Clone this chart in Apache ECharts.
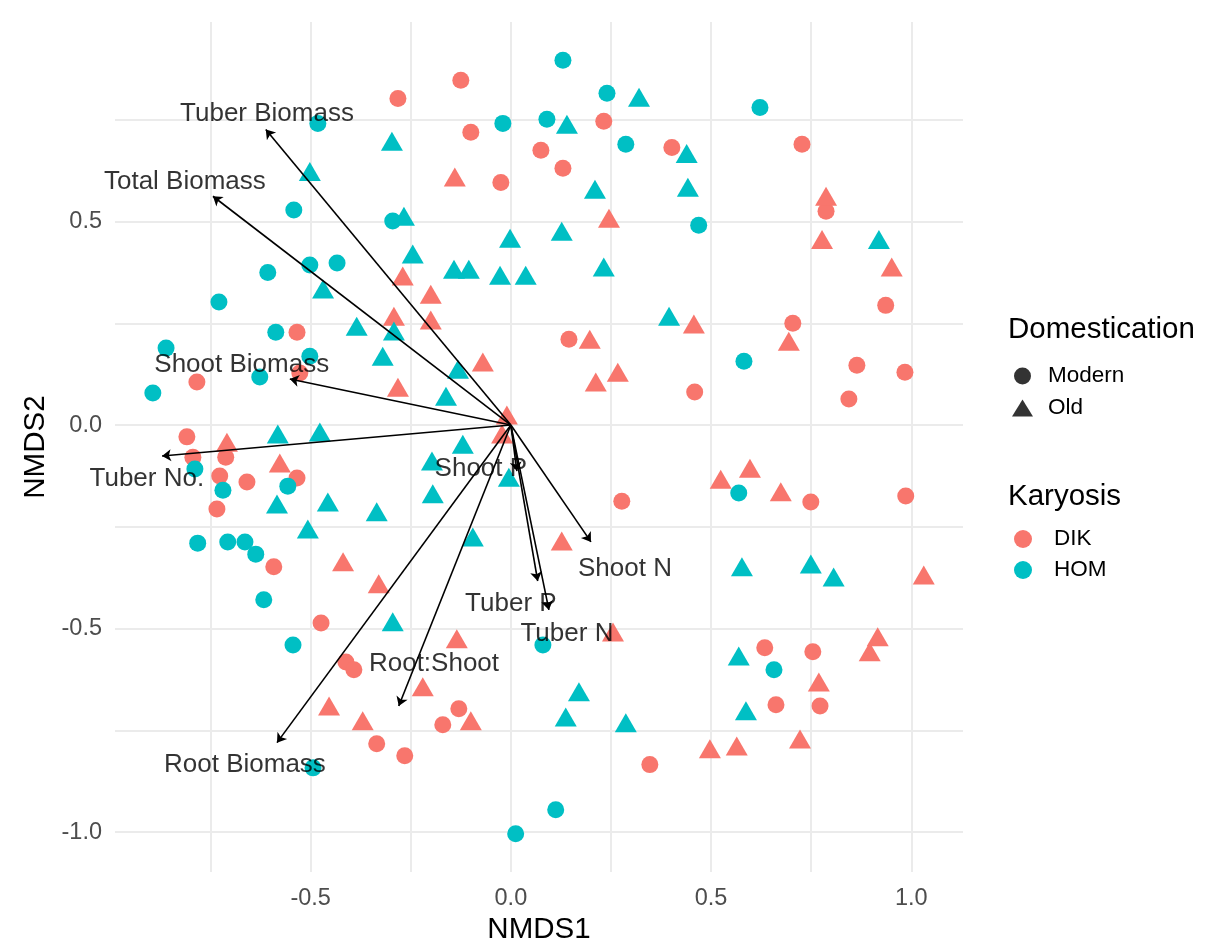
<!DOCTYPE html>
<html>
<head>
<meta charset="utf-8">
<title>NMDS ordination</title>
<script src="https://cdn.jsdelivr.net/npm/echarts@6/dist/echarts.min.js"></script>
<style>
  html, body { margin: 0; padding: 0; background: #ffffff; }
  #chart { width: 1216px; height: 950px; }
</style>
</head>
<body>
<div id="chart"></div>
<script>
// Site scores [NMDS1, NMDS2], split by karyosis and domestication group
const dikModern = [
  [-0.282, 0.802], [-0.125, 0.847], [-0.100, 0.719], [-0.025, 0.596], [0.075, 0.675],
  [0.130, 0.631], [0.232, 0.746], [0.402, 0.682], [0.727, 0.690], [0.787, 0.525],
  [0.936, 0.294], [0.704, 0.250], [0.145, 0.211], [0.864, 0.147], [0.984, 0.130],
  [0.459, 0.081], [0.844, 0.064], [-0.534, 0.228], [-0.527, 0.128], [-0.784, 0.106],
  [-0.809, -0.029], [-0.794, -0.079], [-0.712, -0.079], [-0.727, -0.125], [-0.659, -0.140],
  [-0.534, -0.130], [-0.734, -0.206], [-0.592, -0.348], [-0.474, -0.486], [-0.412, -0.582],
  [-0.392, -0.601], [-0.130, -0.697], [-0.170, -0.736], [-0.335, -0.783], [-0.265, -0.812],
  [0.277, -0.187], [0.749, -0.189], [0.986, -0.174], [0.634, -0.547], [0.754, -0.557],
  [0.662, -0.687], [0.772, -0.690], [0.347, -0.834]
];
const dikOld = [
  [-0.140, 0.609], [0.245, 0.508], [0.787, 0.562], [0.777, 0.456], [0.951, 0.388],
  [-0.270, 0.366], [-0.200, 0.321], [-0.292, 0.267], [-0.200, 0.258], [-0.070, 0.155],
  [-0.282, 0.093], [0.457, 0.248], [0.694, 0.206], [0.197, 0.211], [0.267, 0.130],
  [0.212, 0.106], [-0.010, 0.025], [-0.022, -0.022], [-0.709, -0.042], [-0.577, -0.093],
  [-0.419, -0.336], [-0.330, -0.390], [0.524, -0.133], [0.597, -0.106], [0.674, -0.164],
  [0.127, -0.285], [1.031, -0.368], [0.255, -0.508], [-0.135, -0.525], [-0.220, -0.643],
  [-0.454, -0.690], [-0.370, -0.726], [-0.100, -0.726], [0.916, -0.520], [0.896, -0.557],
  [0.769, -0.631], [0.722, -0.771], [0.497, -0.795], [0.564, -0.788]
];
const homModern = [
  [0.130, 0.896], [0.240, 0.815], [0.622, 0.780], [0.090, 0.751], [-0.020, 0.741],
  [-0.482, 0.741], [0.287, 0.690], [0.469, 0.491], [-0.542, 0.528], [-0.295, 0.501],
  [-0.502, 0.393], [-0.434, 0.398], [-0.607, 0.375], [-0.729, 0.302], [-0.587, 0.228],
  [-0.502, 0.169], [-0.861, 0.189], [-0.627, 0.118], [-0.894, 0.079], [0.582, 0.157],
  [-0.789, -0.108], [-0.719, -0.160], [-0.557, -0.150], [0.569, -0.167], [-0.782, -0.290],
  [-0.707, -0.287], [-0.664, -0.287], [-0.637, -0.317], [-0.617, -0.429], [-0.544, -0.540],
  [0.080, -0.540], [0.657, -0.601], [-0.494, -0.842], [0.112, -0.945], [0.012, -1.004]
];
const homOld = [
  [-0.297, 0.697], [-0.502, 0.623], [0.320, 0.805], [0.140, 0.739], [0.439, 0.667],
  [0.210, 0.579], [0.442, 0.584], [-0.267, 0.513], [-0.002, 0.459], [0.127, 0.476],
  [0.919, 0.456], [-0.245, 0.420], [-0.142, 0.383], [-0.105, 0.383], [-0.027, 0.368],
  [0.037, 0.368], [0.232, 0.388], [-0.469, 0.334], [-0.385, 0.243], [-0.292, 0.231],
  [0.395, 0.267], [-0.320, 0.169], [-0.132, 0.137], [-0.162, 0.071], [-0.582, -0.022],
  [-0.477, -0.017], [-0.120, -0.047], [-0.197, -0.088], [-0.005, -0.128], [-0.195, -0.169],
  [-0.584, -0.194], [-0.457, -0.189], [-0.335, -0.213], [-0.507, -0.255], [-0.095, -0.275],
  [-0.295, -0.483], [0.577, -0.348], [0.749, -0.341], [0.806, -0.373], [0.569, -0.567],
  [0.170, -0.655], [0.137, -0.717], [0.287, -0.731], [0.587, -0.702]
];

// Fitted trait vectors (arrow tips) and where their names sit
const vectorNames = [
  'Tuber Biomass', 'Total Biomass', 'Shoot Biomass', 'Tuber No.', 'Root Biomass',
  'Root:Shoot', 'Shoot P', 'Tuber P', 'Tuber N', 'Shoot N'
];
const vectorTips = [
  [-0.612, 0.726], [-0.744, 0.562], [-0.552, 0.113], [-0.871, -0.076], [-0.584, -0.780],
  [-0.280, -0.690], [0.015, -0.113], [0.067, -0.383], [0.095, -0.454], [0.200, -0.287]
];
const vectorLabelPos = [
  [-0.609, 0.771], [-0.814, 0.604], [-0.672, 0.155], [-0.909, -0.125], [-0.664, -0.827],
  [-0.192, -0.579], [-0.075, -0.101], [0.000, -0.432], [0.140, -0.506], [0.285, -0.346]
];

// Axis ticks and grid positions
const xTickLabels = [-0.5, 0.0, 0.5, 1.0];
const yTickLabels = [-1.0, -0.5, 0.0, 0.5];
const xGridLines = [-0.75, -0.5, -0.25, 0, 0.25, 0.5, 0.75, 1.0];
const yGridLines = [-1.0, -0.75, -0.5, -0.25, 0, 0.25, 0.5, 0.75];

const FONT = "'Liberation Sans', Arial, Helvetica, sans-serif";
const RED = '#F8766D';
const TEAL = '#00BFC4';

function tagged(points, group) {
  return points.map(p => [p[0], p[1], group]);
}
const shapeOf = v => (v[2] === 'Old' ? 'triangle' : 'circle');
const sizeOf = v => (v[2] === 'Old' ? [22, 19] : 17);

const chart = echarts.init(document.getElementById('chart'), null, { renderer: 'canvas' });

const option = {
  backgroundColor: '#ffffff',
  animation: false,
  textStyle: { fontFamily: FONT },
  grid: { left: 115, right: 253, top: 22, bottom: 77, containLabel: false },
  title: [
    { text: 'Domestication', left: 1008, top: 315, padding: 0,
      textStyle: { fontSize: 29.5, fontWeight: 'normal', color: '#000', fontFamily: FONT } },
    { text: 'Karyosis', left: 1008, top: 482, padding: 0,
      textStyle: { fontSize: 29.5, fontWeight: 'normal', color: '#000', fontFamily: FONT } }
  ],
  legend: [
    {
      orient: 'vertical', left: 1012, top: 363, padding: 0,
      itemWidth: 21, itemHeight: 17, itemGap: 6, selectedMode: false,
      data: [{ name: 'Modern', icon: 'circle' }, { name: 'Old', icon: 'triangle' }],
      textStyle: { fontSize: 22.5, color: '#000', fontFamily: FONT, lineHeight: 26, padding: [0, 0, 0, 10] }
    },
    {
      orient: 'vertical', left: 1014, top: 526, padding: 0,
      itemWidth: 18, itemHeight: 18, itemGap: 5, selectedMode: false,
      data: [{ name: 'DIK', icon: 'circle' }, { name: 'HOM', icon: 'circle' }],
      textStyle: { fontSize: 22.5, color: '#000', fontFamily: FONT, lineHeight: 26, padding: [0, 0, 0, 17] }
    }
  ],
  xAxis: {
    type: 'value', min: -0.9885, max: 1.129,
    name: 'NMDS1', nameLocation: 'middle', nameGap: 42,
    nameTextStyle: { fontSize: 29.5, color: '#000', fontFamily: FONT },
    axisLine: { show: false },
    axisTick: { show: false, customValues: xGridLines },
    axisLabel: { customValues: xTickLabels, margin: 14, fontSize: 23.5, color: '#4D4D4D',
      fontFamily: FONT, formatter: v => v.toFixed(1) },
    splitLine: { show: true, lineStyle: { color: '#EBEBEB', width: 2 } }
  },
  yAxis: {
    type: 'value', min: -1.098, max: 0.990,
    name: 'NMDS2', nameLocation: 'middle', nameGap: 62, nameRotate: 90,
    nameTextStyle: { fontSize: 29.5, color: '#000', fontFamily: FONT },
    axisLine: { show: false },
    axisTick: { show: false, customValues: yGridLines },
    axisLabel: { customValues: yTickLabels, margin: 13, fontSize: 23.5, color: '#4D4D4D',
      fontFamily: FONT, formatter: v => v.toFixed(1) },
    splitLine: { show: true, lineStyle: { color: '#EBEBEB', width: 2 } }
  },
  series: [
    {
      name: 'DIK', type: 'scatter', z: 2,
      data: tagged(dikModern, 'Modern').concat(tagged(dikOld, 'Old')),
      symbol: shapeOf, symbolSize: sizeOf,
      itemStyle: { color: RED, opacity: 1 },
      emphasis: { disabled: true }
    },
    {
      name: 'HOM', type: 'scatter', z: 2,
      data: tagged(homModern, 'Modern').concat(tagged(homOld, 'Old')),
      symbol: shapeOf, symbolSize: sizeOf,
      itemStyle: { color: TEAL, opacity: 1 },
      emphasis: { disabled: true }
    },
    // legend-only entries for the shape key
    { name: 'Modern', type: 'scatter', data: [], symbol: 'circle', itemStyle: { color: '#000' } },
    { name: 'Old', type: 'scatter', data: [], symbol: 'triangle', itemStyle: { color: '#000' } },
    {
      name: 'vectors', type: 'lines', coordinateSystem: 'cartesian2d', z: 5,
      symbol: ['none', 'arrow'], symbolSize: 9,
      lineStyle: { color: '#000', width: 1.6, opacity: 1 },
      silent: true,
      data: vectorTips.map(t => ({ coords: [[0, 0], t] }))
    },
    {
      name: 'vector labels', type: 'scatter', z: 10, silent: true,
      symbolSize: 0,
      data: vectorNames.map((n, i) => ({ name: n, value: vectorLabelPos[i] })),
      label: { show: true, position: 'inside', offset: [0, 3], formatter: '{b}', color: '#000',
        fontSize: 26, fontFamily: FONT }
    }
  ]
};

chart.setOption(option);
</script>
</body>
</html>
